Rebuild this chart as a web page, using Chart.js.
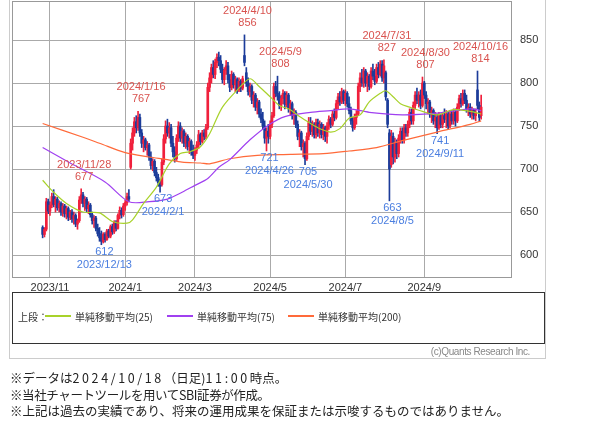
<!DOCTYPE html>
<html>
<head>
<meta charset="utf-8">
<script src="https://cdn.jsdelivr.net/npm/chart.js@4.4.1/dist/chart.umd.min.js"></script>
<style>
  body { margin: 0; background: #fff; width: 600px; height: 430px; position: relative; overflow: hidden; font-family: "Noto Sans CJK JP", sans-serif; }
  #frame { position: absolute; left: 9px; top: -1px; width: 537px; height: 360px; border: 1px solid #ccc; box-sizing: border-box; }
  #chart { position: absolute; left: 0; top: 0; }
  #legend { position: absolute; left: 12px; top: 292px; width: 533px; height: 52px; border: 1.5px solid #333; box-sizing: border-box; }
  .lg { position: absolute; top: 316px; transform: translateY(-50%); font-size: 10px; color: #333; white-space: nowrap; }
  .ln { position: absolute; top: 315px; height: 1.5px; width: 26px; }
  #copy { position: absolute; right: 70px; top: 346px; font-family: "Liberation Sans", sans-serif; font-size: 10px; letter-spacing: -0.4px; color: #888; }
  #notes { position: absolute; left: 10px; top: 370px; font-size: 12.5px; line-height: 16.5px; color: #222; white-space: nowrap; }
  .num { letter-spacing: 2.6px; }
  .tight { letter-spacing: -0.4px; }
</style>
</head>
<body>
<div id="frame"></div>
<canvas id="chart" width="560" height="300"></canvas>
<div id="legend"></div>
<div class="lg" style="left:18px">上段：</div>
<div class="ln" style="left:45px;background:#a8d22a"></div>
<div class="lg" style="left:75px">単純移動平均(25)</div>
<div class="ln" style="left:167px;background:#a040f0"></div>
<div class="lg" style="left:197px">単純移動平均(75)</div>
<div class="ln" style="left:288px;background:#ff6a3a"></div>
<div class="lg" style="left:318px">単純移動平均(200)</div>
<div id="copy">(c)Quants Research Inc.</div>
<div id="notes">
  ※データは<span class="num">2024/10/18</span>（日足)<span class="num">11:00</span>時点。<br>
  <span class="tight">※当社チャートツールを用いてSBI証券が作成。</span><br>
  ※上記は過去の実績であり、将来の運用成果を保証または示唆するものではありません。
</div>
<script>
// 日足: index 0 = 2023/10/26 ... 239 = 2024/10/18
const tickIdx = [4, 45, 83, 124, 165, 208];
const tickLabels = ["2023/11", "2024/1", "2024/3", "2024/5", "2024/7", "2024/9"];
const yTicks = [600, 650, 700, 750, 800, 850];

const openP = [
  632,624,630,662,651,658,668,659,665,655, 660,650,657,648,654,644,650,642,646,636,
  640,664,670,660,665,654,658,647,640,643, 631,625,620,616,624,618,628,622,633,627,
  638,631,646,652,647,657,661,668,702,730, 742,755,748,760,742,730,734,725,728,714,
  704,709,696,690,684,682,708,735,750,742, 748,730,720,712,736,750,736,744,730,738,
  726,732,720,716,722,728,740,732,742,738, 748,795,806,818,810,824,830,826,816,804,
  815,820,804,795,810,798,804,792,802,794, 832,812,800,790,796,780,786,772,778,764,
  758,750,736,744,738,752,762,796,788,785, 774,782,788,775,786,770,776,762,766,752,
  738,742,726,730,712,738,754,744,752,740, 754,742,752,740,748,738,750,758,752,764,
  760,776,784,778,790,780,788,776,768,756, 748,760,764,796,806,800,814,800,808,796,
  814,808,802,818,810,822,806,812,780,742, 705,738,714,730,718,736,744,734,748,742,
  752,766,756,774,786,780,786,774,800,786, 776,778,764,768,756,760,748,762,752,762,
  758,764,750,764,756,766,756,772,782,776, 788,780,770,772,764,768,762,792,774,762
];
const highP = [
  634,632,666,665,662,672,676,668,667,663, 662,660,659,657,656,652,653,650,648,642,
  668,677,673,668,667,662,660,650,646,645, 636,632,628,626,626,630,630,635,636,640,
  640,648,656,655,660,664,672,676,735,748, 760,762,767,764,746,738,736,732,730,720,
  712,711,702,694,688,712,740,756,758,754, 752,738,726,740,755,754,748,746,742,740,
  736,734,728,725,732,745,742,745,746,752, 800,812,822,826,828,834,836,832,822,818,
  826,824,810,814,812,808,806,806,804,808, 856,818,806,800,798,790,788,782,780,770,
  766,756,748,752,756,766,800,802,808,790, 786,792,790,790,788,780,778,770,768,756,
  746,744,734,732,742,760,760,756,754,758, 758,756,754,752,750,754,762,760,768,770,
  780,788,790,794,792,792,790,784,772,760, 764,768,800,812,816,818,816,812,810,818,
  822,816,822,824,826,826,827,814,782,746, 745,742,736,734,740,748,748,752,752,756,
  770,770,778,790,794,790,792,807,802,790, 782,780,772,770,766,764,766,764,766,770,
  768,766,768,768,770,770,776,786,788,792, 792,786,776,776,772,770,770,814,778,786
];
const lowP = [
  620,621,628,648,646,655,656,650,652,650, 646,645,644,642,640,641,638,636,633,630,
  638,660,656,652,650,648,644,636,632,628, 622,616,612,614,615,617,620,620,624,625,
  628,630,642,643,645,652,658,662,700,722, 738,742,745,738,725,720,722,716,710,700,
  698,692,686,680,673,680,705,730,738,736, 726,714,708,710,732,732,730,726,724,722,
  718,716,712,710,718,724,728,730,734,735, 746,790,800,806,805,818,820,812,800,798,
  810,800,790,792,794,790,788,790,790,792, 820,796,786,784,776,772,768,764,760,754,
  746,730,721,730,735,748,760,784,780,770, 768,776,770,772,766,762,758,752,748,734,
  726,722,714,705,710,734,740,738,736,736, 738,736,736,734,732,730,746,748,750,756,
  758,770,774,776,776,774,772,764,752,744, 746,752,762,790,796,795,796,790,792,794,
  804,798,800,806,808,802,800,780,748,663, 702,706,708,712,714,730,730,730,738,738,
  748,752,752,770,776,772,770,772,782,770, 764,760,754,752,748,741,746,748,748,754,
  748,746,748,752,752,750,754,768,772,774, 776,766,762,760,758,758,756,770,756,758
];
const closeP = [
  624,630,662,651,658,668,659,665,655,660, 650,657,648,654,644,650,642,646,636,640,
  664,670,660,665,654,658,647,640,643,631, 625,620,616,624,618,628,622,633,627,638,
  631,646,652,647,657,661,668,665,730,742, 755,748,760,742,730,734,725,728,714,704,
  709,696,690,684,680,708,735,750,742,748, 730,720,712,736,750,736,744,730,738,726,
  732,720,716,722,728,740,732,742,738,748, 795,806,818,810,824,830,826,816,804,815,
  820,804,795,810,798,804,792,802,794,805, 824,800,790,796,780,786,772,778,764,758,
  750,736,744,738,752,762,796,788,785,774, 782,788,775,786,770,776,762,766,752,738,
  742,726,730,712,738,754,744,752,740,754, 742,752,740,748,738,750,758,752,764,760,
  776,784,778,790,780,788,776,768,756,748, 760,764,796,806,800,814,800,808,796,814,
  808,802,818,810,822,806,820,784,752,700, 738,714,730,718,736,744,734,748,742,752,
  766,756,774,786,780,786,774,800,786,776, 778,764,768,756,760,748,762,752,762,758,
  764,750,764,756,766,756,772,782,776,788, 780,770,772,764,768,762,766,774,760,772
];

// 移動平均線 (チャートから読み取り)
const sma25Idx = [0,6,13,22,31,38,46,49,55,62,69,75,80,86,91,98,107,113,118,124,129,135,140,146,151,157,162,167,173,178,184,187,191,195,200,207,215,224,233,239];
const sma25Val = [687,673,660,650,649,639,637,641,660,679,706,718,720,726,741,772,794,805,796,784,774,769,761,753,747,743,747,759,763,778,788,791,784,776,772,767,763,769,767,764];
const sma75Idx = [0,15,34,47,58,68,76,83,90,96,102,113,123,132,146,157,167,178,196,215,233,239];
const sma75Val = [725,707,685,662,662,665,673,681,689,702,711,734,751,761,766,768,770,766,763,765,770,768];
const sma200Idx = [0,22,31,45,58,68,76,86,91,102,117,135,153,167,182,196,215,233,239];
const sma200Val = [753,737,730,719,714,711,708,707,706,712,716,717,718,721,725,733,743,752,756];

// 高値・安値の注記
const annIdx = [21, 32, 52, 64, 110, 122, 128, 143, 186, 189, 207, 215, 237];
const annDate = ["2023/11/28","2023/12/13","2024/1/16","2024/2/1","2024/4/10","2024/4/26","2024/5/9","2024/5/30","2024/7/31","2024/8/5","2024/8/30","2024/9/11","2024/10/16"];
const annValue = [677, 612, 767, 673, 856, 721, 808, 705, 827, 663, 807, 741, 814];
const annHigh = [true, false, true, false, true, false, true, false, true, false, true, false, true];

const upColor = "#f0203c";
const downColor = "#1c3c9a";
const candleColors = closeP.map((c, i) => (c >= openP[i] ? upColor : downColor));

const framePlugin = {
  id: "frame",
  afterDraw(chart) {
    const { ctx, chartArea: a } = chart;
    ctx.save();
    ctx.strokeStyle = "#999";
    ctx.lineWidth = 1;
    ctx.strokeRect(a.left + 0.5, a.top + 0.5, a.right - a.left - 1, a.bottom - a.top - 1);
    ctx.restore();
  },
};

const notePlugin = {
  id: "notes",
  afterDatasetsDraw(chart) {
    const { ctx } = chart;
    const xs = chart.scales.x;
    const ys = chart.scales.y;
    ctx.save();
    ctx.font = '11px "Liberation Sans", sans-serif';
    ctx.textAlign = "center";
    ctx.textBaseline = "middle";
    annIdx.forEach((idx, k) => {
      const x = xs.getPixelForValue(idx) + 3;
      const y = ys.getPixelForValue(annValue[k]);
      if (annHigh[k]) {
        ctx.fillStyle = "#d9534f";
        ctx.fillText(String(annValue[k]), x, y - 12);
        ctx.fillText(annDate[k], x, y - 24);
      } else {
        ctx.fillStyle = "#4a7ee0";
        ctx.fillText(String(annValue[k]), x, y + 7);
        ctx.fillText(annDate[k], x, y + 20);
      }
    });
    ctx.restore();
  },
};

const ctx = document.getElementById("chart");

new Chart(ctx, {
  type: "bar",
  data: {
    datasets: [
      {
        type: "line",
        label: "単純移動平均(25)",
        data: sma25Idx.map((x, k) => ({ x, y: sma25Val[k] })),
        borderColor: "#a8d22a",
        borderWidth: 1.2,
        pointRadius: 0,
        tension: 0.3,
        order: 0,
      },
      {
        type: "line",
        label: "単純移動平均(75)",
        data: sma75Idx.map((x, k) => ({ x, y: sma75Val[k] })),
        borderColor: "#a040f0",
        borderWidth: 1.2,
        pointRadius: 0,
        tension: 0.3,
        order: 0,
      },
      {
        type: "line",
        label: "単純移動平均(200)",
        data: sma200Idx.map((x, k) => ({ x, y: sma200Val[k] })),
        borderColor: "#ff6a3a",
        borderWidth: 1.2,
        pointRadius: 0,
        tension: 0.3,
        order: 0,
      },
      {
        label: "body",
        data: closeP.map((c, i) => ({ x: i, y: [openP[i], c] })),
        backgroundColor: candleColors,
        barThickness: 2,
        minBarLength: 1,
        grouped: false,
        order: 1,
      },
      {
        label: "wick",
        data: closeP.map((c, i) => ({ x: i, y: [lowP[i], highP[i]] })),
        backgroundColor: candleColors,
        barThickness: 1,
        grouped: false,
        order: 2,
      },
    ],
  },
  options: {
    responsive: false,
    animation: false,
    layout: { padding: { left: 12, top: 1, right: 0, bottom: 0 } },
    plugins: { legend: { display: false }, tooltip: { enabled: false } },
    scales: {
      x: {
        type: "linear",
        min: -16.7,
        max: 255.8,
        offset: false,
        grid: { color: "#aaa", drawTicks: false, offset: false },
        border: { display: false },
        afterBuildTicks: (s) => { s.ticks = tickIdx.map((v) => ({ value: v })); },
        afterFit: (s) => { s.height = 22; s.paddingLeft = 0; s.paddingRight = 0; },
        ticks: {
          callback: (v) => tickLabels[tickIdx.indexOf(v)],
          autoSkip: false,
          maxRotation: 0,
          padding: 3,
          color: "#333",
          font: { family: "Liberation Sans", size: 11 },
        },
      },
      y: {
        position: "right",
        min: 573.3,
        max: 895.4,
        grid: { color: "#aaa", drawTicks: false },
        border: { display: false },
        afterBuildTicks: (s) => { s.ticks = yTicks.map((v) => ({ value: v })); },
        afterFit: (s) => { s.width = 48; s.paddingTop = 0; s.paddingBottom = 0; },
        ticks: {
          padding: 8,
          color: "#333",
          font: { family: "Liberation Sans", size: 11 },
        },
      },
    },
  },
  plugins: [framePlugin, notePlugin],
});
</script>
</body>
</html>
